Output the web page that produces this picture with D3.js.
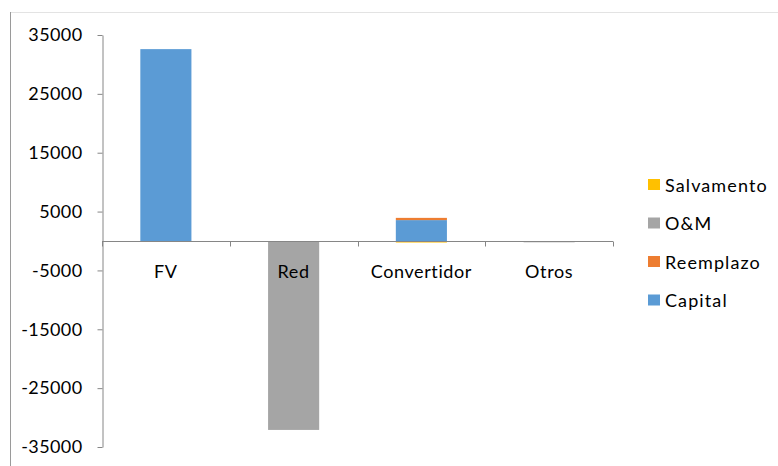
<!DOCTYPE html>
<html>
<head>
<meta charset="utf-8">
<script src="https://cdn.jsdelivr.net/npm/d3@7"></script>
<style>
  body { margin: 0; background: #fff; }
  text { font-family: Lato, "Open Sans", sans-serif; fill: #000; }
</style>
</head>
<body>
<svg id="chart" width="778" height="466"></svg>
<script>
const categories = ["FV", "Red", "Convertidor", "Otros"];
const seriesNames = ["Capital", "Reemplazo", "O&M", "Salvamento"];
const capital = [32600, 0, 3550, 0];
const reemplazo = [0, 0, 380, 0];
const oym = [0, -32100, 0, -220];
const salvamento = [0, 0, -260, 0];
const yTicks = [35000, 25000, 15000, 5000, -5000, -15000, -25000, -35000];

const colors = {};
colors["Capital"] = "#5B9BD5";
colors["Reemplazo"] = "#ED7D31";
colors["O&M"] = "#A5A5A5";
colors["Salvamento"] = "#FFC000";

const rows = categories.map((c, i) => ({
    cat: c,
    "Capital": capital[i],
    "Reemplazo": reemplazo[i],
    "O&M": oym[i],
    "Salvamento": salvamento[i]
}));

const svg = d3.select("#chart");
const axisColor = "#868686";

// chart area frame (only top and left edges are visible)
svg.append("line").attr("x1", 10).attr("x2", 778).attr("y1", 12.5).attr("y2", 12.5)
    .attr("stroke", "#e3e3e3");
svg.append("line").attr("x1", 10.5).attr("x2", 10.5).attr("y1", 12).attr("y2", 466)
    .attr("stroke", "#9a9a9a");

const x = d3.scaleBand().domain(categories).range([102, 613])
    .paddingInner(0.6).paddingOuter(0.3);
const y = d3.scaleLinear().domain([-35000, 35000]).range([447, 35]);

const stack = d3.stack().keys(seriesNames).offset(d3.stackOffsetDiverging);
const stacked = stack(rows);

svg.append("g").selectAll("g")
    .data(stacked)
    .enter().append("g")
    .attr("fill", (d) => colors[d.key])
    .selectAll("rect")
    .data((d) => d)
    .enter().append("rect")
    .attr("x", (d) => x(d.data.cat))
    .attr("width", x.bandwidth())
    .attr("y", (d) => y(Math.max(d[0], d[1])))
    .attr("height", (d) => Math.abs(y(d[0]) - y(d[1])));

// y axis
const yAxis = svg.append("g").attr("transform", "translate(102.5,0)")
    .call(d3.axisLeft(y).tickValues(yTicks).tickFormat((d) => String(d))
        .tickSize(5).tickSizeOuter(0).tickPadding(15));
yAxis.select(".domain").attr("stroke", axisColor);
yAxis.selectAll(".tick line").attr("stroke", axisColor);
yAxis.selectAll(".tick text").attr("font-size", "18px").attr("letter-spacing", "0.4px")
    .style("font-family", "Lato, sans-serif");

// x axis at zero, tick marks on category boundaries
const xg = svg.append("g").attr("transform", "translate(0," + (Math.round(y(0)) + 0.5) + ")");
xg.append("line").attr("x1", 102).attr("x2", 613).attr("stroke", axisColor);
const r0 = x.range()[0];
xg.selectAll(".bound")
    .data(d3.range(categories.length + 1))
    .enter().append("line")
    .attr("class", "bound")
    .attr("x1", (i) => Math.round(r0 + i * x.step()) + 0.5)
    .attr("x2", (i) => Math.round(r0 + i * x.step()) + 0.5)
    .attr("y1", 0).attr("y2", 5)
    .attr("stroke", axisColor);
xg.selectAll(".lab")
    .data(categories)
    .enter().append("text")
    .attr("x", (d) => x(d) + x.bandwidth() / 2)
    .attr("y", 36)
    .attr("text-anchor", "middle")
    .attr("font-size", "18px")
    .attr("letter-spacing", "0.6px")
    .text((d) => d);

// legend, reversed order
const legend = svg.append("g").attr("transform", "translate(648,185)");
const items = legend.selectAll("g")
    .data(seriesNames.slice().reverse())
    .enter().append("g")
    .attr("transform", (d, i) => "translate(0," + (i * 38.5) + ")");
items.append("rect").attr("x", 0).attr("y", -6).attr("width", 12).attr("height", 11)
    .attr("fill", (d) => colors[d]);
items.append("text").attr("x", 17).attr("y", 6.5).attr("font-size", "18px")
    .attr("letter-spacing", "1.1px")
    .text((d) => d);
</script>
</body>
</html>
